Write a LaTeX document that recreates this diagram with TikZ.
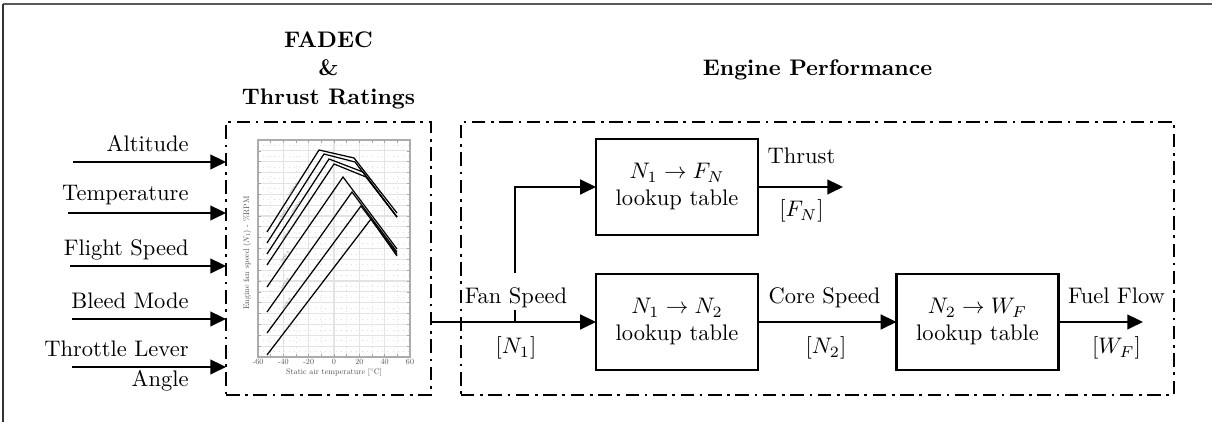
\documentclass[tikz,border=0pt]{standalone}
\usetikzlibrary{arrows.meta}
\begin{document}
\begin{tikzpicture}[x=0.4444pt,y=-0.4444pt,
  arr/.style={line width=1.2pt,-{Triangle[length=7pt,width=6.5pt]}},
  ln/.style={line width=1.2pt},
  blk/.style={draw,line width=1.1pt,minimum width=72pt,minimum height=42.7pt,align=center,inner sep=0pt,outer sep=0pt},
  grp/.style={draw,line width=0.9pt,dash pattern=on 6pt off 2.5pt on 1.2pt off 2.5pt,inner sep=0pt,outer sep=0pt},
  lbl/.style={anchor=base,inner sep=0pt},
  inlbl/.style={anchor=base east,inner sep=0pt},
  ttl/.style={font=\bfseries,anchor=base,inner sep=0pt},
  tiny/.style={text=black!70,inner sep=0pt},
  crv/.style={line width=0.55pt,line join=miter},
  clbl/.style={text=black!50,rotate=57,inner sep=0pt}]

\newcommand{\sm}[1]{\scalebox{0.36}{#1}}
\newcommand{\xs}[1]{\scalebox{0.2}{#1}}

\useasboundingbox (0,0) rectangle (1212,422);
\draw[black!65,line width=0.5pt] (3,4) -- (1212,4);
\draw[black!80,line width=0.5pt] (3,4) -- (3,422);

% group boxes
\node[grp,minimum width=91.1pt,minimum height=121.3pt] (fadec) at (328.5,258.5) {};
\node[grp,minimum width=316.9pt,minimum height=121.3pt] (eng) at (817.5,258.5) {};

% titles
\node[ttl] (t1) at (328.5,47.5) {FADEC};
\node[ttl] (t2) at (328.5,76) {\&};
\node[ttl] (t3) at (328.5,105) {Thrust Ratings};
\node[ttl] (t4) at (817.5,76) {Engine Performance};

% ---- chart ----
\foreach \k in {1,...,19}
  \draw[gray!22,line width=0.5pt] (258,{140+\k*10.85}) -- (410,{140+\k*10.85});
\foreach \k in {0,...,19}
  \draw[gray!25,line width=0.3pt,dotted] (258,{145.4+\k*10.85}) -- (410,{145.4+\k*10.85});
\foreach \x in {283.33,308.67,334,359.33,384.67}
  \draw[gray!22,line width=0.6pt] (\x,140) -- (\x,357);
\foreach \x in {270.67,296,321.33,346.67,372,397.33}
  \draw[gray!25,line width=0.3pt,dotted] (\x,140) -- (\x,357);
\draw[gray!65,line width=0.8pt] (258,140) rectangle (410,357);
\foreach \k in {1,...,19} {
  \draw[gray!70,line width=0.3pt] (258,{140+\k*10.85}) -- (261,{140+\k*10.85});
  \draw[gray!70,line width=0.3pt] (410,{140+\k*10.85}) -- (407,{140+\k*10.85});
}
\foreach \x in {270.67,283.33,296,308.67,321.33,334,346.67,359.33,372,384.67,397.33} {
  \draw[gray!70,line width=0.3pt] (\x,357) -- (\x,354);
  \draw[gray!70,line width=0.3pt] (\x,140) -- (\x,143);
}
\draw[crv] (267,232) -- (319,150) -- (354,158) -- (397,213);
\draw[crv] (267,243) -- (324,154) -- (355,162) -- (397,217);
\draw[crv] (267,254) -- (329,159) -- (363,172) -- (397,217);
\draw[crv] (267,265) -- (334,164) -- (366,177) -- (397,217);
\draw[crv] (267,287) -- (343,177) -- (397,249);
\draw[crv] (267,312) -- (352,192) -- (397,252);
\draw[crv] (267,333) -- (361,206) -- (397,254);
\draw[crv] (267,355) -- (371,219) -- (397,256);
\node[clbl] (c1) at (293,190) {\xs{14000 ft}};
\node[clbl] (c2) at (284,214) {\xs{12000 ft}};
\node[clbl] (c3) at (296,208) {\xs{10000 ft}};
\node[clbl] (c4) at (286,236) {\xs{8000 ft}};
\node[clbl] (c5) at (285,257) {\xs{6000 ft}};
\node[clbl] (c6) at (285,284) {\xs{4000 ft}};
\node[clbl] (c7) at (287,304) {\xs{2000 ft}};
\node[clbl] (c8) at (289,327) {\xs{0 ft}};
\foreach \x/\t [count=\i] in {258/-60,283.33/-40,308.67/-20,334/0,359.33/20,384.67/40,410/60}
  \node[tiny] (xt\i) at (\x,362) {\sm{\t}};
\node[tiny] (xl) at (334,372.5) {\sm{Static air temperature [$^\circ$C]}};
\node[tiny,rotate=90] (yl) at (247,253) {\sm{Engine fan speed ($N_1$) - \%RPM}};

% ---- inputs ----
\node[inlbl] (la) at (189,152) {Altitude};
\node[inlbl] (lb) at (189,200.5) {Temperature};
\node[inlbl] (lc) at (189,255.5) {Flight Speed};
\node[inlbl] (ld) at (189,308.5) {Bleed Mode};
\node[inlbl] (le) at (189,357) {Throttle Lever};
\node[inlbl] (lf) at (189,387) {Angle};
\coordinate (ia) at (73,162);
\coordinate (ib) at (68,213);
\coordinate (ic) at (70,266);
\coordinate (id) at (72,319);
\coordinate (ie) at (72,367);
\foreach \c in {ia,ib,ic,id,ie}
  \draw[arr] (\c) -- (\c -| fadec.west);

% ---- blocks ----
\node[blk] (fn) at (677,187) {$N_1 \to F_N$\\lookup table};
\node[blk] (n2) at (677,322) {$N_1 \to N_2$\\lookup table};
\node[blk] (wf) at (977.5,322) {$N_2 \to W_F$\\lookup table};

% ---- connectors ----
\coordinate (j) at (515,322);
\coordinate (fsb) at (515,310);
\coordinate (fst) at (515,273);
\coordinate (thr) at (843,187);
\coordinate (ffl) at (1143,322);
\draw[arr] (fadec.east |- n2.west) -- (n2.west);
\draw[ln] (j) -- (fsb);
\draw[arr] (fst) |- (fn.west);
\draw[arr] (fn.east) -- (thr);
\draw[arr] (n2.east) -- (wf.west);
\draw[arr] (wf.east) -- (ffl);

% ---- labels ----
\node[lbl] (lfs) at (516,303.5) {Fan Speed};
\node[lbl] (ln1) at (516,354) {$[N_1]$};
\node[lbl] (lth) at (801.5,164) {Thrust};
\node[lbl] (lfn) at (801.5,217) {$[F_N]$};
\node[lbl] (lcs) at (824.5,303.5) {Core Speed};
\node[lbl] (ln2) at (826,354) {$[N_2]$};
\node[lbl] (lff) at (1116.5,303.5) {Fuel Flow};
\node[lbl] (lwf) at (1116.5,354) {$[W_F]$};
\end{tikzpicture}
\end{document}
